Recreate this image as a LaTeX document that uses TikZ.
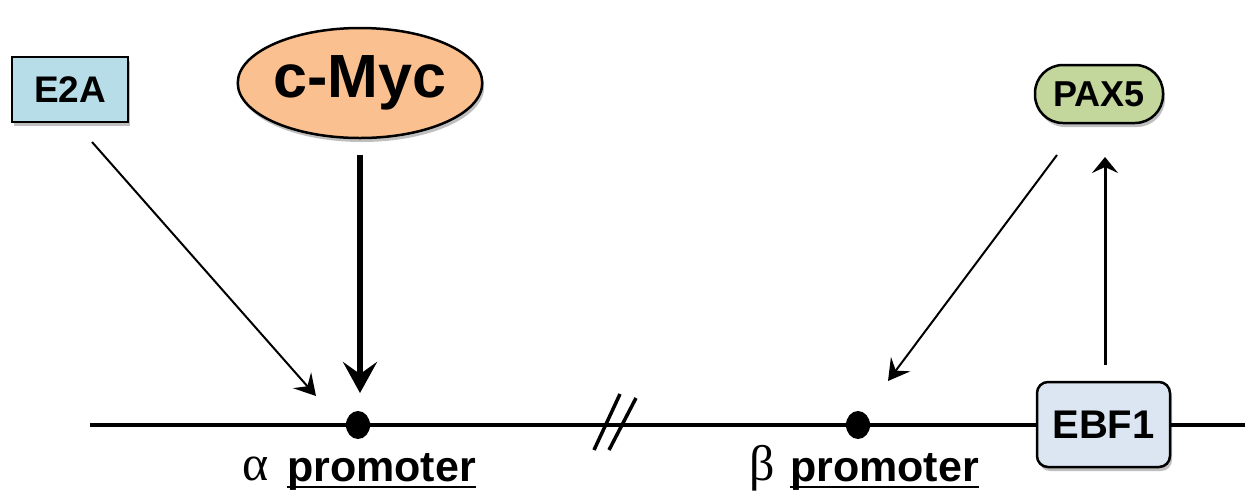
\documentclass[tikz,border=0pt]{standalone}
\usepackage{fontspec}
\setmainfont{Liberation Sans}
\newfontfamily\greekfont{Liberation Serif}
\usetikzlibrary{arrows.meta,shapes.geometric,shadows}

\definecolor{e2afill}{HTML}{B7DDE8}
\definecolor{mycfill}{HTML}{FAC090}
\definecolor{paxfill}{HTML}{C3D69B}
\definecolor{ebffill}{HTML}{DCE6F2}

\tikzset{
  factor/.style={draw=black, line width=2.5pt, inner sep=0pt,
    drop shadow={shadow xshift=2pt, shadow yshift=-4pt, opacity=0.25, fill=black}},
  genelabel/.style={font=\bfseries\fontsize{43}{43}\selectfont, inner sep=0pt, anchor=base west},
  greeklabel/.style={font=\greekfont\fontsize{50}{50}\selectfont, inner sep=0pt, anchor=base west},
  thinarrow/.style={line width=2pt, -{Stealth[length=21pt,width=24pt,inset=8pt]}},
  thickarrow/.style={line width=5.5pt, -{Stealth[length=31pt,width=34pt,inset=12pt]}},
  midarrow/.style={line width=3pt, -{Stealth[length=16pt,width=26pt,inset=6pt]}},
  dna/.style={line width=4.5pt},
  site/.style={fill=black, draw=none},
}

\begin{document}
\begin{tikzpicture}[x=1pt,y=-1pt]
\useasboundingbox (0,0) rectangle (1249,491);

% DNA strand with the break marks
\coordinate (dnaL) at (90,425);
\coordinate (dnaR) at (1245,425);
\draw[dna] (dnaL) -- (dnaR);
\draw[line width=3.5pt] (594,450) -- (620,394);
\draw[line width=3.5pt] (609,450) -- (636,398);

% promoter sites
\fill[site] (358,425) ellipse [x radius=12, y radius=14];
\fill[site] (858,425) ellipse [x radius=12, y radius=14];

% transcription factors
\node[factor, rectangle, fill=e2afill, minimum width=116pt, minimum height=65pt,
      font=\bfseries\fontsize{37}{37}\selectfont] (e2a) at (70,89.5) {E2A};
\node[factor, ellipse, fill=mycfill, minimum width=226pt, minimum height=110pt,
      font=\bfseries\fontsize{61}{61}\selectfont] (myc) at (360,83) {c-Myc};
\node[factor, rectangle, rounded corners=28pt, fill=paxfill, minimum width=128pt, minimum height=58pt,
      font=\bfseries\fontsize{36}{36}\selectfont] (pax) at (1099,94) {PAX5};
\node[factor, rectangle, rounded corners=11pt, fill=ebffill, minimum width=133pt, minimum height=85pt,
      font=\bfseries\fontsize{40}{40}\selectfont] (ebf) at (1103.5,424.5) {EBF1};

% arrow end points
\coordinate (e2aTail) at (92,142);
\coordinate (alphaTip) at (316,396);
\coordinate (mycTail) at (360,155);
\coordinate (mycTip) at (360,393);
\coordinate (paxTail) at (1057,155);
\coordinate (betaTip) at (888,381);
\coordinate (ebfTail) at (1105,365);
\coordinate (paxTip) at (1105,157);

\draw[thinarrow] (e2aTail) -- (alphaTip);
\draw[thickarrow] (mycTail) -- (mycTip);
\draw[thinarrow] (paxTail) -- (betaTip);
\draw[midarrow] (ebfTail) -- (paxTip);

% promoter labels
\node[greeklabel] (alab) at (242,480) {α};
\node[genelabel] (aprom) at (287,481) {promoter};
\draw[line width=2.5pt] ([yshift=-6pt]aprom.base west) -- ([yshift=-6pt]aprom.base east);
\node[greeklabel] (blab) at (749,480) {β};
\node[genelabel] (bprom) at (790,481) {promoter};
\draw[line width=2.5pt] ([yshift=-6pt]bprom.base west) -- ([yshift=-6pt]bprom.base east);
\end{tikzpicture}
\end{document}
